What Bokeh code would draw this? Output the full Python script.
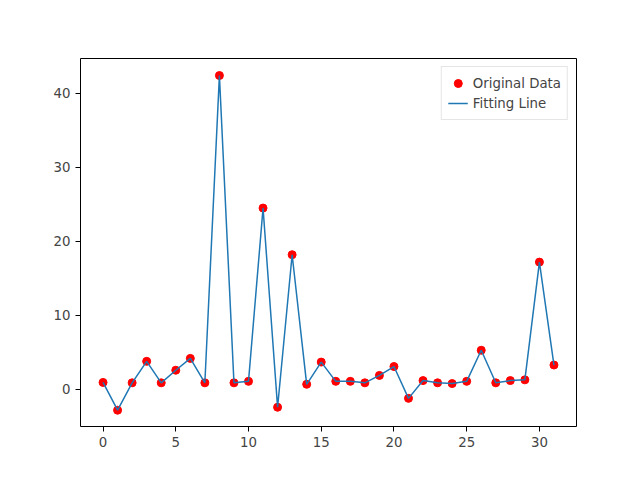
from bokeh.plotting import figure
from bokeh.models import Range1d, Legend, LegendItem, FixedTicker
from bokeh.embed import file_html
from bokeh.resources import INLINE

x = list(range(32))
y = [0.95, -2.8, 0.9, 3.8, 0.9, 2.6, 4.2, 0.9, 42.4, 0.9, 1.1, 24.5, -2.4, 18.2, 0.7, 3.7,
     1.1, 1.1, 0.9, 1.9, 3.1, -1.2, 1.2, 0.9, 0.8, 1.1, 5.3, 0.9, 1.2, 1.3, 17.2, 3.3]

p = figure(width=640, height=480, output_backend="svg", toolbar_location=None,
           x_range=Range1d(-1.55, 32.55), y_range=Range1d(-5.0, 44.7),
           min_border_left=80, min_border_right=64, min_border_top=58, min_border_bottom=54)
p.xgrid.visible = False
p.ygrid.visible = False
p.outline_line_color = "black"
p.xaxis.ticker = FixedTicker(ticks=[0, 5, 10, 15, 20, 25, 30])
p.yaxis.ticker = FixedTicker(ticks=[0, 10, 20, 30, 40])
for ax in (p.xaxis[0], p.yaxis[0]):
    ax.minor_tick_line_color = None
    ax.major_label_text_font = "DejaVu Sans"
    ax.major_label_text_font_size = "10pt"
    ax.major_tick_in = 0
    ax.major_tick_out = 5
    ax.axis_line_color = None

r1 = p.scatter(x, y, size=8, color="red")
r2 = p.line(x, y, line_color="#1f77b4", line_width=1.5)
leg = Legend(items=[LegendItem(label="Original Data", renderers=[r1]),
                    LegendItem(label="Fitting Line", renderers=[r2])],
             location="top_right", label_text_font="DejaVu Sans", label_text_font_size="10pt",
             border_line_color="#cccccc", spacing=0, padding=6, margin=8)
p.add_layout(leg)

open("out.html", "w").write(file_html(p, INLINE))
